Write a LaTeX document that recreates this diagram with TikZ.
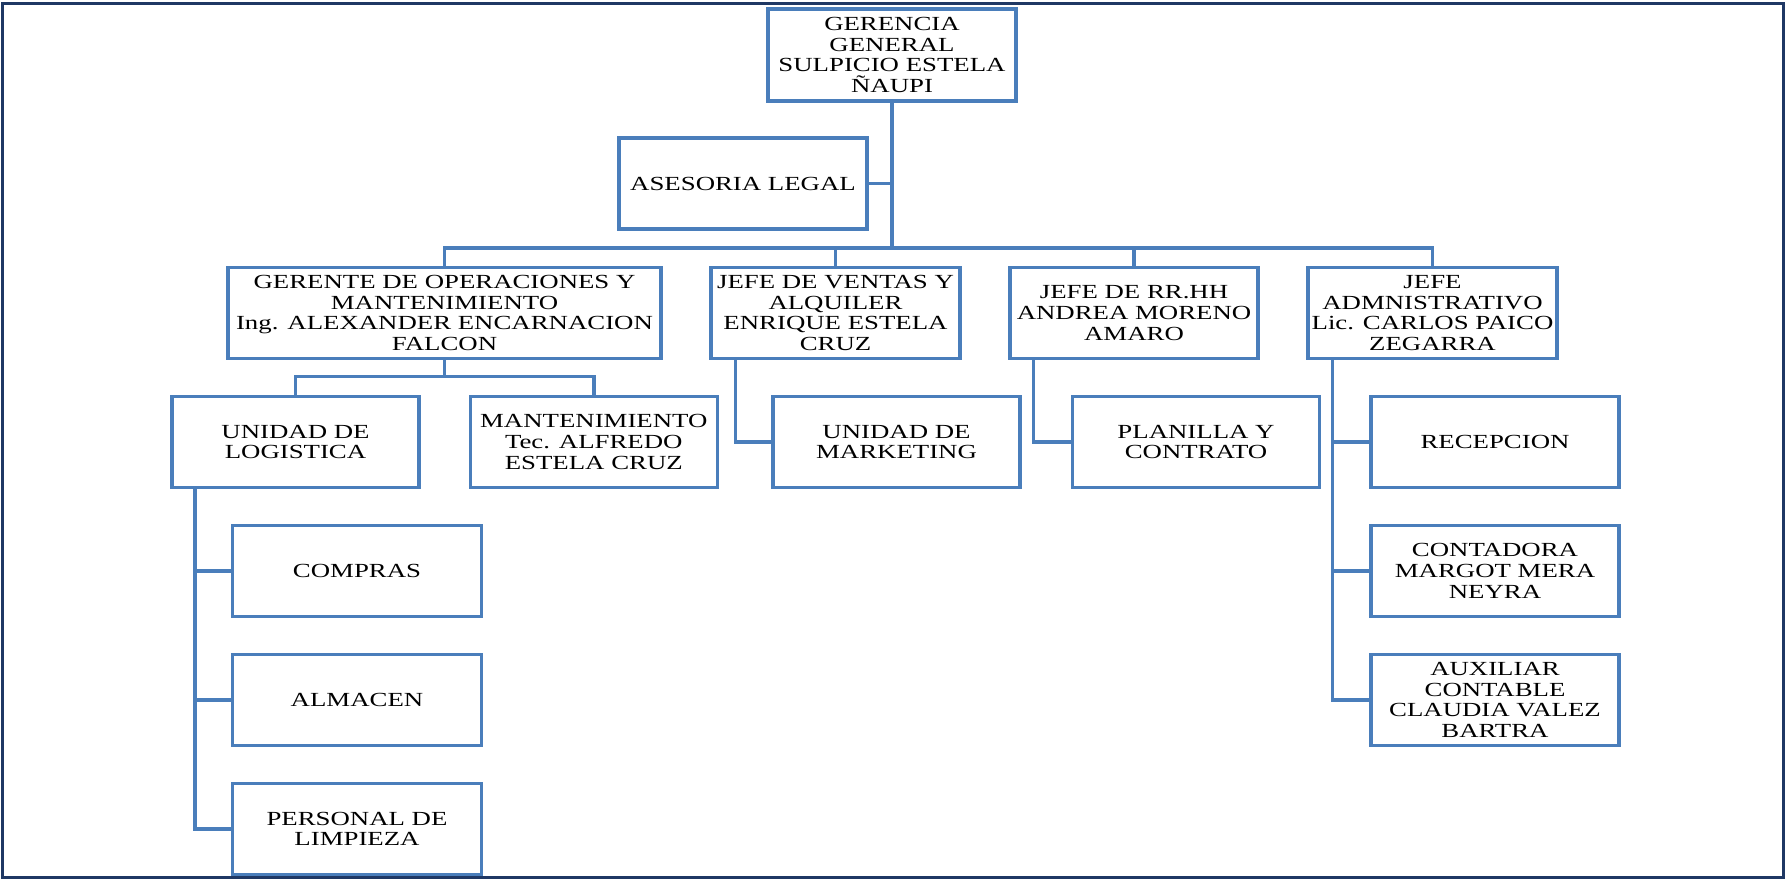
\documentclass[tikz,border=0pt]{standalone}
\usepackage{fontspec}
\setmainfont{Liberation Serif}[FakeStretch=1.34]
\definecolor{boxblue}{HTML}{4A7EBB}
\definecolor{framenavy}{HTML}{1F3864}
\tikzset{
  orgbox/.style={draw=boxblue, line width=3.5pt, fill=white, inner sep=0pt,
    minimum width=248pt, minimum height=91pt, align=center,
    font=\fontsize{20}{20.7}\selectfont},
  link/.style={draw=boxblue, line width=3.5pt}
}
\begin{document}
\begin{tikzpicture}[x=1pt,y=-1pt]
\useasboundingbox (0,0) rectangle (1786,880);
\draw[framenavy, line width=3.5pt] (2.5,3.5) rectangle (1783.5,877.5);

\node[orgbox, minimum height=92pt] (gg) at (892,55) {GERENCIA\\GENERAL\\SULPICIO ESTELA\\ÑAUPI};
\node[orgbox] (al) at (743,183.5) {ASESORIA LEGAL};

\node[orgbox, minimum width=433pt] (ops) at (444.5,313) {GERENTE DE OPERACIONES Y\\MANTENIMIENTO\\Ing. ALEXANDER ENCARNACION\\FALCON};
\node[orgbox, minimum width=249pt] (ven) at (835.5,313) {JEFE DE VENTAS Y\\ALQUILER\\ENRIQUE ESTELA\\CRUZ};
\node[orgbox] (rh) at (1134,313) {JEFE DE RR.HH\\ANDREA MORENO\\AMARO};
\node[orgbox, minimum width=249pt] (adm) at (1432.5,313) {JEFE\\ADMNISTRATIVO\\Lic. CARLOS PAICO\\ZEGARRA};

\node[orgbox, minimum width=247pt] (log) at (295.5,442) {UNIDAD DE\\LOGISTICA};
\node[orgbox, minimum width=247pt] (man) at (593.8,442) {MANTENIMIENTO\\Tec. ALFREDO\\ESTELA CRUZ};
\node[orgbox, minimum width=247pt] (mkt) at (896.5,442) {UNIDAD DE\\MARKETING};
\node[orgbox, minimum width=247pt] (pla) at (1196,442) {PLANILLA Y\\CONTRATO};
\node[orgbox] (rec) at (1495,442) {RECEPCION};

\node[orgbox, minimum width=249pt] (com) at (357,571) {COMPRAS};
\node[orgbox, minimum width=249pt] (alm) at (357,700) {ALMACEN};
\node[orgbox, minimum width=249pt] (per) at (357,829) {PERSONAL DE\\LIMPIEZA};
\node[orgbox] (con) at (1495,571) {CONTADORA\\MARGOT MERA\\NEYRA};
\node[orgbox] (aux) at (1495,700) {AUXILIAR\\CONTABLE\\CLAUDIA VALEZ\\BARTRA};

% main trunk and bus
\coordinate (busy) at (0,248);
\coordinate (suby) at (0,376.7);
\path[link] (gg.south) -- (gg.south |- busy);
\path[link] (al.east) -- (al.east -| gg.south);
\path[link] (ops.north) -- (ops.north |- busy) -- (adm.north |- busy) -- (adm.north);
\path[link] (ven.north) -- (ven.north |- busy);
\path[link] (rh.north) -- (rh.north |- busy);

% operations sub-bus
\path[link] (ops.south) -- (ops.south |- suby);
\path[link] (log.north) -- (log.north |- suby) -- (man.north |- suby) -- (man.north);

% side trunks
\path[link] ([xshift=26pt]ven.south west) |- (mkt.west);
\path[link] ([xshift=25pt]rh.south west) |- (pla.west);

\coordinate (admt) at ([xshift=26pt]adm.south west);
\path[link] (admt) |- (aux.west);
\path[link] (rec.west) -- (rec.west -| admt);
\path[link] (con.west) -- (con.west -| admt);

\coordinate (logt) at ([xshift=24.5pt]log.south west);
\path[link] (logt) |- (per.west);
\path[link] (com.west) -- (com.west -| logt);
\path[link] (alm.west) -- (alm.west -| logt);
\end{tikzpicture}
\end{document}
